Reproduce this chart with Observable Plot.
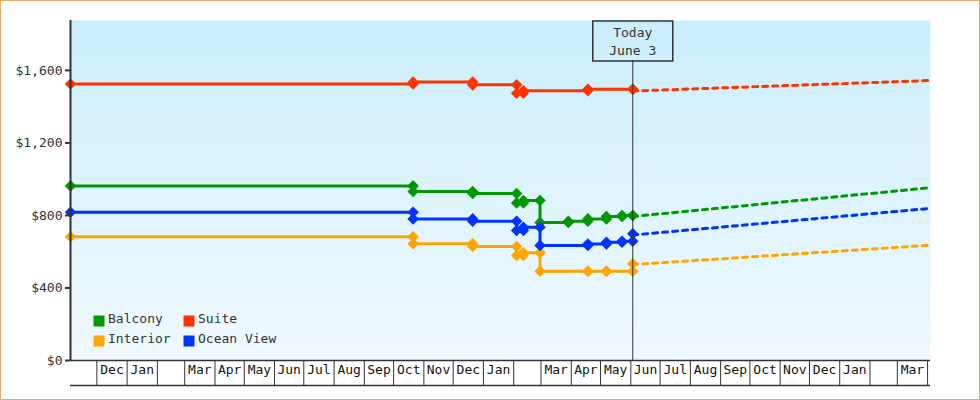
<!DOCTYPE html>
<html><head><meta charset="utf-8">
<script src="https://cdn.jsdelivr.net/npm/d3@7"></script>
<script src="https://cdn.jsdelivr.net/npm/@observablehq/plot@0.6"></script>
<style>
html,body{margin:0;padding:0;background:#fff}
#wrap{position:relative;width:980px;height:400px;overflow:hidden}
#border{position:absolute;left:0;top:0;width:980px;height:400px;box-sizing:border-box;border:1px solid #e8aa66;pointer-events:none}
svg{display:block}
</style></head><body><div id="wrap"><div id="border"></div></div>
<script>
// ---- data ----
const seriesNames = ["Balcony", "Suite", "Interior", "Ocean View"];
const seriesColors = ["#009900", "#ff3300", "#ffa500", "#0033ff"];

const balconyDates = ["2020-11-04","2021-10-21","2021-12-21","2022-02-04","2022-02-11","2022-02-28","2022-03-29","2022-04-18","2022-05-07","2022-05-23","2022-06-03"];
const balconyPrices = [963, 932, 921, 868, 882, 761, 768, 781, 794, 800, 800];

const suiteDates = ["2020-11-04","2021-10-21","2021-12-21","2022-02-04","2022-02-11","2022-04-18","2022-06-03"];
const suitePrices = [1525, 1536, 1520, 1474, 1488, 1496, 1496];

const interiorDates = ["2020-11-04","2021-10-21","2021-12-21","2022-02-04","2022-02-11","2022-02-28","2022-04-18","2022-05-07","2022-06-03"];
const interiorPrices = [682, 644, 629, 579, 594, 492, 492, 492, 533];

const oceanDates = ["2020-11-04","2021-10-21","2021-12-21","2022-02-04","2022-02-11","2022-02-28","2022-04-18","2022-05-07","2022-05-23","2022-06-03"];
const oceanPrices = [818, 781, 768, 717, 735, 634, 643, 652, 658, 699];

const forecastDates = ["2022-06-03", "2023-04-04"];
const balconyForecast = [794, 953];
const suiteForecast = [1486, 1544];
const interiorForecast = [529, 636];
const oceanForecast = [692, 839];

const todayDate = "2022-06-03";
const todayLabel = "Today\nJune 3";

const axisStart = "2020-11-04";
const axisEnd = "2023-04-04";
const yMax = 1875;
const yTicks = [0, 400, 800, 1200, 1600];
const monthLabels = ["", "Dec", "Jan", "", "Mar", "Apr", "May", "Jun", "Jul", "Aug", "Sep", "Oct", "Nov", "Dec",
  "Jan", "", "Mar", "Apr", "May", "Jun", "Jul", "Aug", "Sep", "Oct", "Nov", "Dec", "Jan", "", "Mar", ""];

// ---- build tables ----
const parse = d3.utcParse("%Y-%m-%d");
const series = [
  {name: seriesNames[0], dates: balconyDates, prices: balconyPrices, forecast: balconyForecast},
  {name: seriesNames[1], dates: suiteDates, prices: suitePrices, forecast: suiteForecast},
  {name: seriesNames[2], dates: interiorDates, prices: interiorPrices, forecast: interiorForecast},
  {name: seriesNames[3], dates: oceanDates, prices: oceanPrices, forecast: oceanForecast}
];
const history = series.flatMap(s => s.dates.map((d, i) => ({series: s.name, date: parse(d), price: s.prices[i]})));
const vertices = series.flatMap(s => s.dates.flatMap((d, i) => i === 0
  ? [{series: s.name, date: parse(d), price: s.prices[i]}]
  : [{series: s.name, date: parse(d), price: s.prices[i - 1]}, {series: s.name, date: parse(d), price: s.prices[i]}]));
const forecast = series.flatMap(s => forecastDates.map((d, i) => ({series: s.name, date: parse(d), price: s.forecast[i]})));

const xDomain = [parse(axisStart), parse(axisEnd)];
const today = parse(todayDate);
const monthStarts = d3.utcMonth.range(d3.utcMonth.ceil(xDomain[0]), xDomain[1]);
const bounds = [xDomain[0], ...monthStarts, xDomain[1]];
const cells = monthLabels.map((label, i) => ({label, mid: new Date((+bounds[i] + +bounds[i + 1]) / 2)}));

const boxSymbol = {draw(context) { context.rect(-40, 0.5, 80, 40); }};

const legendMarks = seriesNames.flatMap((name, i) => {
  const col = i % 2, row = Math.floor(i / 2);
  const dx = 28.5 + col * 90, dy = -39.5 + row * 20;
  return [
    Plot.dot([name], {frameAnchor: "bottom-left", dx, dy, symbol: "square", r: 6.2, fill: seriesColors[i], stroke: "none"}),
    Plot.text([name], {frameAnchor: "bottom-left", dx: dx + 9, dy: dy + 2, text: d => d, textAnchor: "start", fill: "#333"})
  ];
});

const chart = Plot.plot({
  width: 980,
  height: 400,
  marginLeft: 70,
  marginRight: 50,
  marginTop: 20,
  marginBottom: 40,
  style: {fontFamily: "'DejaVu Sans Mono', monospace", fontSize: "13px", background: "transparent", overflow: "visible"},
  x: {type: "utc", domain: xDomain, axis: null},
  y: {domain: [0, yMax]},
  color: {domain: seriesNames, range: seriesColors},
  marks: [
    Plot.frame({fill: "url(#bgGrad)", stroke: "none"}),
    Plot.line(history, {x: "date", y: "price", z: "series", stroke: "series", strokeWidth: 3, curve: "step-after"}),
    Plot.line(forecast, {x: "date", y: "price", z: "series", stroke: "series", strokeWidth: 3, strokeDasharray: "5,5"}),
    Plot.dot(vertices, {x: "date", y: "price", fill: "series", r: 5.2, symbol: "diamond2"}),
    Plot.ruleX([today], {insetTop: 40, stroke: "#333", strokeWidth: 1}),
    Plot.dot([today], {x: d => d, frameAnchor: "top", symbol: boxSymbol, stroke: "#333", fill: "none", r: 3}),
    Plot.text([today], {x: d => d, frameAnchor: "top", lineAnchor: "top", dy: 4, lineHeight: 1.36, text: () => todayLabel, fill: "#333"}),
    Plot.ruleX(monthStarts, {insetTop: 340, insetBottom: -25, stroke: "#333", strokeWidth: 1}),
    Plot.ruleY([0], {stroke: "#333", strokeWidth: 1.5}),
    Plot.ruleY([0], {dy: 25, stroke: "#333", strokeWidth: 1.5}),
    Plot.ruleX([xDomain[0]], {stroke: "#333", strokeWidth: 2}),
    Plot.axisY(yTicks, {tickFormat: d3.format("$,"), tickSize: 5, tickPadding: 3, stroke: "#333", strokeWidth: 2, fill: "#333", label: null}),
    Plot.text(cells, {x: "mid", text: "label", frameAnchor: "bottom", dy: 13, fill: "#111"}),
    ...legendMarks
  ]
});

d3.select(chart).insert("defs", ":first-child").html(
  '<linearGradient id="bgGrad" x1="0" y1="0" x2="0" y2="1">' +
  '<stop offset="0" stop-color="#cbeefc"/><stop offset="1" stop-color="#f0f9fe"/></linearGradient>');

const wrap = document.getElementById("wrap");
wrap.insertBefore(chart, document.getElementById("border"));
</script>
</body></html>
